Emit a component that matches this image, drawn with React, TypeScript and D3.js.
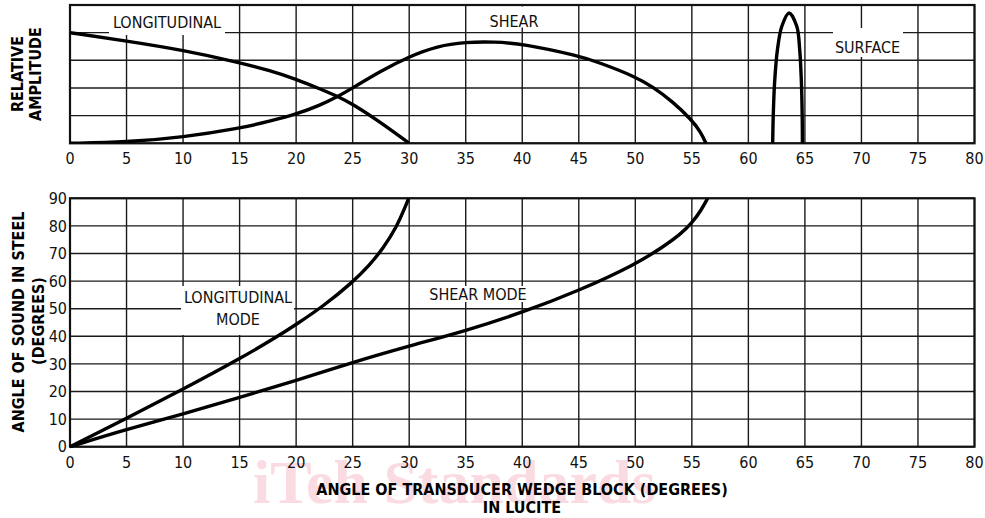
import React from 'react';
import * as d3 from 'd3';

// wedge angle in lucite (degrees), shared by both panels
const xTicks = d3.range(0, 85, 5);
const ampTicks = [0, 1, 2, 3, 4, 5];
const steelTicks = d3.range(0, 100, 10);

type Pt = [number, number];

// top panel: relative amplitude (grid units 0..5)
const ampLongitudinal: Pt[] = [
  [0, 4.0], [5, 3.7], [10, 3.37], [15, 2.92], [17.7, 2.63], [20, 2.32], [22.1, 1.97],
  [23.7, 1.69], [25, 1.42], [27.4, 0.78], [30, 0],
];
const ampShear: Pt[] = [
  [0, 0], [5, 0.04], [10, 0.22], [15, 0.54], [17.7, 0.8], [20, 1.05], [22.1, 1.37], [23.7, 1.69],
  [25, 2.0], [27.4, 2.6], [30, 3.14], [32.5, 3.52], [35, 3.66], [37.5, 3.67], [40, 3.6],
  [45, 3.16], [46.8, 2.92], [50, 2.41], [51.5, 2.05], [53.3, 1.51], [55, 0.84], [55.8, 0.4],
  [56.25, 0],
];
const ampSurface: Pt[] = [
  [62.15, 0], [62.2, 1], [62.32, 2.2], [62.57, 3.38], [62.96, 4.23], [63.6, 4.71],
  [64.28, 4.23], [64.54, 3.38], [64.69, 2.2], [64.76, 1], [64.78, 0],
];

// bottom panel: refracted angle in steel (degrees)
const steelLongitudinal: Pt[] = [
  [0, 0], [5, 10.3], [10, 20.8], [15, 31.8], [18.5, 40.3], [20, 44.3], [22.4, 50.9], [25, 59.6],
  [26.5, 65.8], [27.7, 71.9], [28.9, 79.7], [29.6, 86.4], [29.95, 90],
];
const steelShear: Pt[] = [
  [0, 0], [5, 6.3], [10, 11.8], [15, 17.8], [20, 24], [25, 30.6], [30, 36.5], [35, 42],
  [40, 48.6], [45, 56.5], [50, 66], [52.5, 72.5], [54, 77], [55, 81], [55.8, 85.5], [56.4, 90],
];

const W = 985;
const H = 518;
const plotLeft = 70;
const plotRight = 974.5;
const top1 = 5;
const bottom1 = 143.3;
const top2 = 198.3;
const bottom2 = 446.7;

const font = "'DejaVu Sans Condensed', 'DejaVu Sans', sans-serif";
const gridColor = '#1a1a1a';

const x = d3.scaleLinear().domain([0, 80]).range([plotLeft, plotRight]);
const yAmp = d3.scaleLinear().domain([0, 5]).range([bottom1, top1]);
const ySteel = d3.scaleLinear().domain([0, 90]).range([bottom2, top2]);

const App: React.FC = () => {
  // read-off points are a bit noisy, so the wide curves get a smoothing spline
  const ampLine = d3
    .line<Pt>()
    .x((d) => x(d[0]))
    .y((d) => yAmp(d[1]))
    .curve(d3.curveBasis);
  const peakLine = d3
    .line<Pt>()
    .x((d) => x(d[0]))
    .y((d) => yAmp(d[1]))
    .curve(d3.curveCatmullRom.alpha(0.5));
  const steelLine = d3
    .line<Pt>()
    .x((d) => x(d[0]))
    .y((d) => ySteel(d[1]))
    .curve(d3.curveBasis);

  const txt = { fontFamily: font, fontStretch: 'condensed' as const };

  return (
    <svg
      width={W}
      height={H}
      style={{ position: 'absolute', left: 0, top: 0, background: '#fff' }}
    >
      <defs>
        <clipPath id="clipTop">
          <rect x={plotLeft} y={top1 - 2} width={plotRight - plotLeft} height={bottom1 - top1 + 2} />
        </clipPath>
        <clipPath id="clipBot">
          <rect x={plotLeft - 2} y={top2} width={plotRight - plotLeft + 2} height={bottom2 - top2 + 2} />
        </clipPath>
      </defs>

      {/* watermark */}
      <text
        x={253}
        y={503}
        fontFamily="'Liberation Serif', serif"
        fontWeight="bold"
        fontSize={62}
        fill="#fbdbe2"
      >
        iTeh Standards
      </text>

      {/* top panel grid */}
      <g stroke={gridColor} strokeWidth={1.4}>
        {xTicks.map((t) => (
          <line key={'tv' + t} x1={x(t)} x2={x(t)} y1={top1} y2={bottom1} />
        ))}
        {ampTicks.map((t) => (
          <line key={'th' + t} x1={plotLeft} x2={plotRight} y1={yAmp(t)} y2={yAmp(t)} />
        ))}
      </g>
      {/* bottom panel grid */}
      <g stroke={gridColor} strokeWidth={1.4}>
        {xTicks.map((t) => (
          <line key={'bv' + t} x1={x(t)} x2={x(t)} y1={top2} y2={bottom2} />
        ))}
        {steelTicks.map((t) => (
          <line key={'bh' + t} x1={plotLeft} x2={plotRight} y1={ySteel(t)} y2={ySteel(t)} />
        ))}
      </g>

      {/* label backgrounds that break the grid */}
      <g fill="#fff">
        <rect x={109} y={6} width={116} height={29} />
        <rect x={487} y={6.5} width={54} height={21} />
        <rect x={833} y={28} width={70} height={29} />
        <rect x={181} y={286} width={113} height={49} />
        <rect x={428} y={286} width={101} height={16} />
      </g>

      {/* frames */}
      <g fill="none" stroke="#111" strokeWidth={2.2}>
        <rect x={plotLeft} y={top1} width={plotRight - plotLeft} height={bottom1 - top1} />
        <rect x={plotLeft} y={top2} width={plotRight - plotLeft} height={bottom2 - top2} />
      </g>

      {/* curves */}
      <g fill="none" stroke="#000" strokeWidth={3.4} strokeLinejoin="round">
        <g clipPath="url(#clipTop)">
          <path d={ampLine(ampLongitudinal) || ''} />
          <path d={ampLine(ampShear) || ''} />
          <path d={peakLine(ampSurface) || ''} />
        </g>
        <g clipPath="url(#clipBot)">
          <path d={steelLine(steelLongitudinal) || ''} />
          <path d={steelLine(steelShear) || ''} />
        </g>
      </g>

      {/* tick labels */}
      <g {...txt} fontSize={16} fill="#111" textAnchor="middle">
        {xTicks.map((t) => (
          <text key={'xl1' + t} x={x(t)} y={164}>
            {t}
          </text>
        ))}
        {xTicks.map((t) => (
          <text key={'xl2' + t} x={x(t)} y={468}>
            {t}
          </text>
        ))}
      </g>
      <g {...txt} fontSize={16} fill="#111" textAnchor="end">
        {steelTicks.map((t) => (
          <text key={'yl' + t} x={67} y={ySteel(t)} dy="0.36em">
            {t}
          </text>
        ))}
      </g>

      {/* curve labels */}
      <g {...txt} fontSize={16} fill="#111" textAnchor="middle">
        <text x={167} y={28.3}>LONGITUDINAL</text>
        <text x={514} y={26.7}>SHEAR</text>
        <text x={867.5} y={53.3}>SURFACE</text>
        <text x={238} y={303}>LONGITUDINAL</text>
        <text x={238} y={325}>MODE</text>
        <text x={478} y={300}>SHEAR MODE</text>
      </g>

      {/* axis titles */}
      <g {...txt} fontSize={16} fontWeight="bold" fill="#000" textAnchor="middle">
        <text transform="translate(23,74) rotate(-90)">RELATIVE</text>
        <text transform="translate(41,74) rotate(-90)">AMPLITUDE</text>
        <text transform="translate(24,322) rotate(-90)">ANGLE OF SOUND IN STEEL</text>
        <text transform="translate(44,321) rotate(-90)">(DEGREES)</text>
        <text x={522} y={495}>ANGLE OF TRANSDUCER WEDGE BLOCK (DEGREES)</text>
        <text x={522} y={513}>IN LUCITE</text>
      </g>
    </svg>
  );
};

export default App;
